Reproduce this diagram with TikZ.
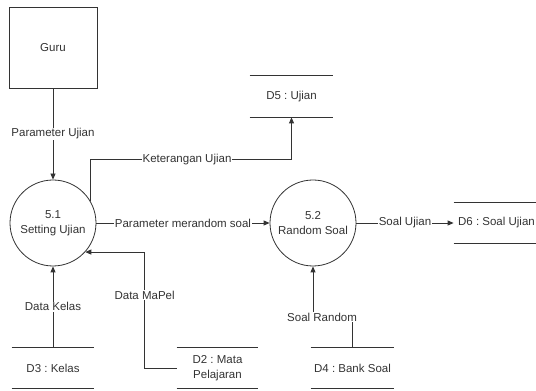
\documentclass[tikz,border=0pt]{standalone}
\usepackage{fontspec}
\setmainfont{Liberation Sans}
\usetikzlibrary{arrows.meta}
\frenchspacing

\begin{document}
\begin{tikzpicture}[x=1pt, y=1pt, font=\fontsize{11.5}{15}\selectfont,
		color=black!80, line width=0.8pt,
		>={Triangle[width=5pt, length=6pt]},
		entity/.style={draw, minimum width=88pt, minimum height=81pt},
		proc/.style={draw, circle, minimum size=86pt, inner sep=0pt, align=center},
		store/.style={minimum width=83pt, minimum height=41pt, inner sep=0pt, align=center,
			append after command={(\tikzlastnode.north west) edge (\tikzlastnode.north east)
				(\tikzlastnode.south west) edge (\tikzlastnode.south east)}},
		flow/.style={fill=white, inner sep=1pt}]
		\useasboundingbox (0,0) rectangle (536,391);
		
		\node [entity] (guru) at (53, 343.5) {Guru};
		\node [proc] (p51) at (53, 168) {5.1\\Setting Ujian};
		\node [proc] (p52) at (313, 168) {5.2\\Random Soal};
		
		\node [store] (d5) at (291.5, 294.5) {D5 : Ujian};
		\node [store, minimum width=85pt] (d6) at (496.5, 168) {D6 : Soal Ujian};
		\node [store, minimum width=82pt] (d3) at (53, 23) {D3 : Kelas};
		\node [store, minimum width=81pt] (d2) at (217.5, 23) {D2 : Mata\\Pelajaran};
		\node [store] (d4) at (352.5, 23) {D4 : Bank Soal};
		
		\draw [->] (guru) -- node [flow] {Parameter Ujian} (p51);
		\draw [->] (p51.30) -- ++(0, 42) -| node [flow, pos=0.24] {Keterangan Ujian} (d5.south);
		\draw [->] (p51) -- node [flow] {Parameter merandom soal} (p52);
		\draw [->] (p52) -- node [flow] {Soal Ujian} (d6);
		\draw [->] (d3) -- node [flow] {Data Kelas} (p51);
		\draw [->] (d2.west) -- ++(-32, 0) |- node [flow, pos=0.315] {Data MaPel} (p51.-42);
		\draw [->] (d4.north) -- ++(0, 30) -| node [flow, pos=0.385] {Soal Random} (p52.south);
		
		\end{tikzpicture}
\end{document}
